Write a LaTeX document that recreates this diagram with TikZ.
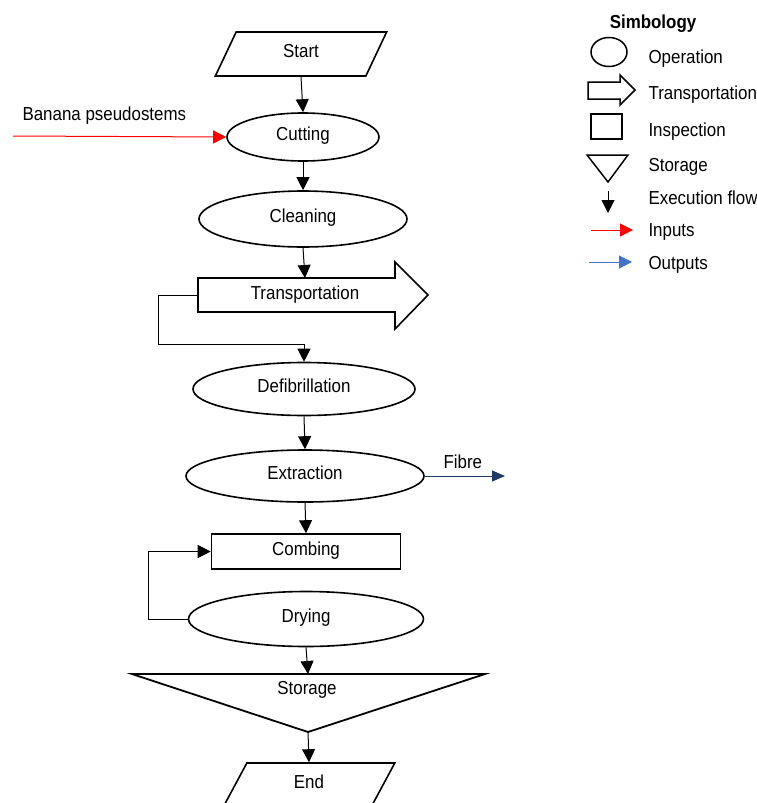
\documentclass[tikz,border=0pt]{standalone}
\usepackage{fontspec}
\setmainfont{Liberation Sans}[FakeStretch=0.9]
\usepackage{xcolor}
\usetikzlibrary{arrows.meta, shapes.geometric}
\definecolor{fibreblue}{HTML}{203864}
\definecolor{outblue}{HTML}{4472C4}

\begin{document}
\begin{tikzpicture}[x=1pt, y=-1pt, >={Triangle[length=13pt,width=13pt]},
			font=\fontsize{18.8}{22}\selectfont,
			box/.style={draw, line width=1.6pt, inner sep=0pt, text height=0.72em, text depth=0pt},
			oper/.style={box, ellipse},
			io/.style={box, trapezium, trapezium left angle=51.5, trapezium right angle=128.5,
				trapezium stretches=true, minimum width=172pt, minimum height=44pt},
			flow/.style={->, line width=1pt},
			input/.style={->, line width=1pt, red},
			output/.style={->, line width=1pt}]
		\useasboundingbox (0,0) rectangle (757,803);

		% main chart
		\node[io] (start) at (301,54) {Start};
		\node[oper, minimum width=152pt, minimum height=48pt] (cut) at (303,137) {Cutting};
		\node[oper, minimum width=208pt, minimum height=56pt] (clean) at (303,219) {Cleaning};

		\draw[line width=1.6pt] (198,278) -- (395,278) -- (395,262) -- (428,295)
			-- (395,329) -- (395,312) -- (198,312) -- cycle;
		\coordinate (trtop) at (305,278);
		\coordinate (trleft) at (198,295);
		\node[text height=0.72em, text depth=0pt] (trans) at (305,295.5) {Transportation};

		\node[oper, minimum width=222pt, minimum height=53pt] (defib) at (304,389) {Defibrillation};
		\node[oper, minimum width=238pt, minimum height=52pt] (extr) at (305,476) {Extraction};
		\node[box, rectangle, minimum width=189pt, minimum height=35pt] (comb) at (306,551.5) {Combing};
		\node[oper, minimum width=235pt, minimum height=55pt] (dry) at (306,619) {Drying};

		\draw[line width=1.8pt] (132,674) -- (485,674) -- (308,732) -- cycle;
		\coordinate (stotop) at (308,674);
		\coordinate (stoapex) at (308,732);
		\node[text height=0.72em, text depth=0pt] (sto) at (307,690.5) {Storage};

		\node[io] (end) at (309,785) {End};

		\draw[flow] (start.south) -- (cut.north);
		\draw[flow] (cut.south) -- (clean.north);
		\draw[flow] (clean.south) -- (trtop);
		\draw[flow] (trleft) -- ++(-40,0) |- ([yshift=17pt] defib.north) -- (defib.north);
		\draw[flow] (defib.south) -- (extr.north);
		\draw[flow] (extr.south) -- (comb.north);
		\draw[flow] (dry.west) -- ++(-39,0) |- (comb.west);
		\draw[flow] (dry.south) -- (stotop);
		\draw[flow] (stoapex) -- (end.north);

		% input and output
		\coordinate (inbeg) at (13,136);
		\node[anchor=base west] (banana) at (19,120) {Banana pseudostems};
		\draw[input] (inbeg) -- (cut.west);

		\coordinate (fibend) at (505,476);
		\node[anchor=base west] (fibre) at (440,468) {Fibre};
		\draw[output, fibreblue, >={Triangle[length=13pt,width=11pt]}] (extr.east) -- (fibend);

		% legend
		\node[anchor=base, font=\fontsize{18.8}{22}\selectfont\bfseries] (simb) at (653,28) {Simbology};
		\draw[line width=1.5pt] (609,52) ellipse [x radius=18, y radius=14.5];
		\draw[line width=1.5pt] (588,82) -- (620,82) -- (620,75) -- (635,90)
			-- (620,105) -- (620,99) -- (588,99) -- cycle;
		\draw[line width=1.5pt] (591,114) rectangle (622,139);
		\draw[line width=1.5pt] (587,155) -- (628,155) -- (608,182) -- cycle;
		\coordinate (exa) at (608,191);
		\coordinate (exb) at (608,213);
		\draw[flow] (exa) -- (exb);
		\coordinate (ina) at (591,230);
		\coordinate (inb) at (633,230);
		\draw[input] (ina) -- (inb);
		\coordinate (outa) at (589,262);
		\coordinate (outb) at (632,262);
		\draw[output, outblue] (outa) -- (outb);

		\node[anchor=base west] (lop) at (645,63) {Operation};
		\node[anchor=base west] (ltr) at (645,99) {Transportation};
		\node[anchor=base west] (lin) at (645,136) {Inspection};
		\node[anchor=base west] (lst) at (645,171) {Storage};
		\node[anchor=base west] (lex) at (645,204) {Execution flow};
		\node[anchor=base west] (linp) at (645,236) {Inputs};
		\node[anchor=base west] (lout) at (645,269) {Outputs};
	\end{tikzpicture}
\end{document}
